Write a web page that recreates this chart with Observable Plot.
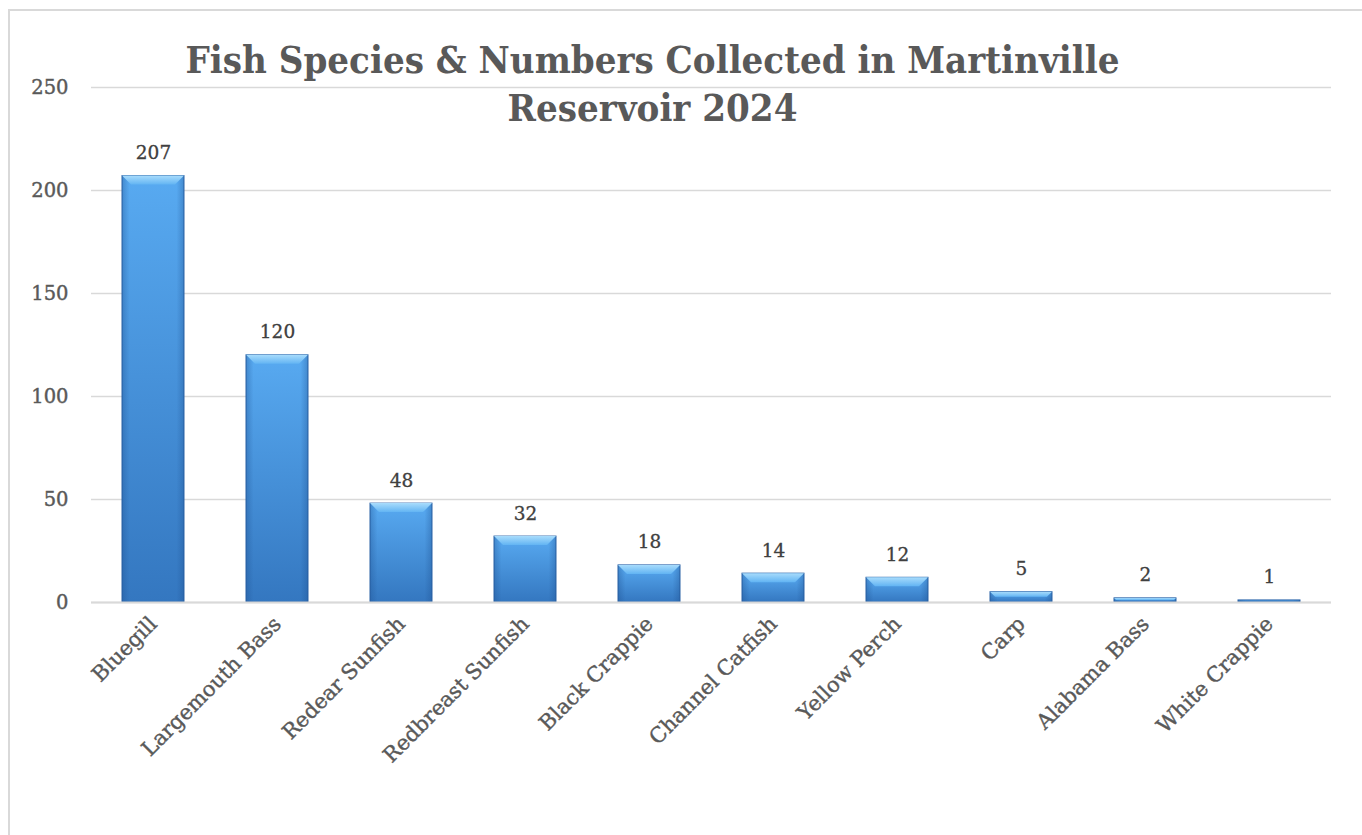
<!DOCTYPE html>
<html>
<head>
<meta charset="utf-8">
<script src="https://cdn.jsdelivr.net/npm/d3@7"></script>
<script src="https://cdn.jsdelivr.net/npm/@observablehq/plot@0.6"></script>
<style>
  html, body { margin: 0; padding: 0; background: #fff; }
  #wrap { position: relative; width: 1362px; height: 835px; overflow: hidden; }
  #frame { position: absolute; left: 8px; top: 9px; width: 1400px; height: 900px;
           border-top: 2px solid #d9d9d9; border-left: 2px solid #d9d9d9; box-sizing: border-box; }
  #title { position: absolute; left: 0; top: 36px; width: 1305px; text-align: center;
           font-family: "DejaVu Serif Condensed", "DejaVu Serif", serif; font-weight: bold;
           font-size: 38px; line-height: 48px; color: #595959; }
  #chart { position: absolute; left: 0; top: 0; }
  #chart svg g[aria-label$="tick label"] text { stroke: #595959; stroke-width: 0.4px; }
  #chart svg g.vlabels text { stroke: #404040; stroke-width: 0.3px; }
</style>
</head>
<body>
<div id="wrap">
  <div id="frame"></div>
  <div id="chart"></div>
  <div id="title">Fish Species &amp; Numbers Collected in Martinville<br>Reservoir 2024</div>
</div>
<script>
const species = ["Bluegill", "Largemouth Bass", "Redear Sunfish", "Redbreast Sunfish", "Black Crappie",
                 "Channel Catfish", "Yellow Perch", "Carp", "Alabama Bass", "White Crappie"];
const counts = [207, 120, 48, 32, 18, 14, 12, 5, 2, 1];
const yTicks = [0, 50, 100, 150, 200, 250];

const data = species.map((s, i) => ({species: s, count: counts[i]}));

const plot = Plot.plot({
  width: 1362,
  height: 835,
  marginTop: 87,
  marginBottom: 233,
  marginLeft: 91,
  marginRight: 31,
  style: {fontFamily: "DejaVu Serif, serif", background: "transparent", overflow: "visible"},
  x: {domain: species, paddingInner: 0.5, paddingOuter: 0.25, label: null},
  y: {domain: [0, 250], label: null},
  marks: [
    Plot.gridY(yTicks, {stroke: "#d9d9d9", strokeOpacity: 1, strokeWidth: 1.5}),
    Plot.axisY(yTicks, {tickSize: 0, tickPadding: 23, fontSize: 19.5, fill: "#595959", label: null}),
    Plot.axisX({tickSize: 0, tickRotate: -45, tickPadding: 18, fontSize: 21, fill: "#595959", label: null}),
    Plot.barY(data, {x: "species", y: "count", fill: "url(#barGrad)", stroke: "#2a62a6", strokeWidth: 1, className: "fishbar"}),
    Plot.ruleY([0], {stroke: "#d9d9d9", strokeWidth: 2}),
    Plot.text(data, {x: "species", y: "count", text: d => String(d.count), dy: -17, lineAnchor: "bottom",
                     fontSize: 18.5, fill: "#404040", className: "vlabels"})
  ]
});
document.getElementById("chart").appendChild(plot);

// gradients
const svg = d3.select(plot);
const defs = svg.insert("defs", ":first-child");
const g1 = defs.append("linearGradient").attr("id", "barGrad").attr("x1", 0).attr("y1", 0).attr("x2", 0).attr("y2", 1);
g1.append("stop").attr("offset", "0%").attr("stop-color", "#58aaf1");
g1.append("stop").attr("offset", "100%").attr("stop-color", "#3477c0");
const g2 = defs.append("linearGradient").attr("id", "sideGrad").attr("x1", 0).attr("y1", 0).attr("x2", 1).attr("y2", 0);
g2.append("stop").attr("offset", "0%").attr("stop-color", "#1d4f8f").attr("stop-opacity", 0.35);
g2.append("stop").attr("offset", "12%").attr("stop-color", "#1d4f8f").attr("stop-opacity", 0);
g2.append("stop").attr("offset", "88%").attr("stop-color", "#1d4f8f").attr("stop-opacity", 0);
g2.append("stop").attr("offset", "100%").attr("stop-color", "#1d4f8f").attr("stop-opacity", 0.35);
const g3 = defs.append("linearGradient").attr("id", "bevelGrad").attr("x1", 0).attr("y1", 0).attr("x2", 0).attr("y2", 1);
g3.append("stop").attr("offset", "0%").attr("stop-color", "#a8dcfc");
g3.append("stop").attr("offset", "100%").attr("stop-color", "#62b4f3");

// bevel highlight derived from the rendered bars
svg.selectAll(".fishbar rect").each(function() {
  const r = d3.select(this);
  const x = +r.attr("x"), y = +r.attr("y"), w = +r.attr("width"), h = +r.attr("height");
  const parent = d3.select(this.parentNode);
  parent.append("rect").attr("x", x).attr("y", y).attr("width", w).attr("height", h)
    .attr("fill", "url(#sideGrad)").attr("stroke", "none");
  const b = Math.min(9, h / 2);
  if (h > 3) {
    parent.append("polygon")
      .attr("points", `${x},${y} ${x + w},${y} ${x + w - b},${y + b} ${x + b},${y + b}`)
      .attr("fill", "url(#bevelGrad)").attr("stroke", "none");
  }
});
</script>
</body>
</html>
